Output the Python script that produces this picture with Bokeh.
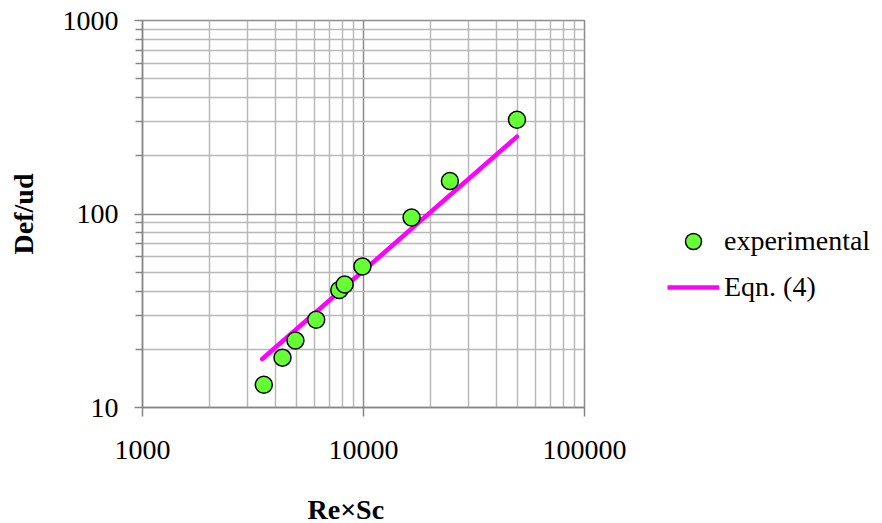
from bokeh.plotting import figure
from bokeh.models import Range1d, FixedTicker, Legend, LegendItem, Label
from bokeh.layouts import row, column
from bokeh.embed import file_html
from bokeh.resources import INLINE

# ---- data ----
re_sc = [3540, 4300, 4920, 6110, 7770, 8220, 9890, 16500, 24600, 49500]
def_ud = [13.1, 18.1, 22.2, 28.4, 40.5, 43.2, 53.6, 95.9, 148, 307]

eqn_x = [3480, 49500]
eqn_y = [17.8, 251]

x_major = [1000, 10000, 100000]
x_minor = [2000, 3000, 4000, 5000, 6000, 7000, 8000, 9000,
           20000, 30000, 40000, 50000, 60000, 70000, 80000, 90000]
y_major = [10, 100, 1000]
y_minor = [20, 30, 40, 50, 60, 70, 80, 90,
           200, 300, 400, 500, 600, 700, 800, 900]
x_labels = ["1000", "10000", "100000"]
y_labels = ["10", "100", "1000"]
x_title = "Re×Sc"
y_title = "Def/ud"
series_names = ["experimental", "Eqn. (4)"]

FONT = "Liberation Serif"
AXIS_C = "#868686"
GRID_MAJ = "#8c8c8c"
GRID_MIN = "#b8b8b8"
PT_FILL = "#66ff33"
LINE_C = "#ff00ff"

# ---------------- main plot ----------------
p = figure(frame_width=442, frame_height=387, x_axis_type="log", y_axis_type="log",
           x_range=Range1d(1000, 100000), y_range=Range1d(10, 1000),
           output_backend="svg", toolbar_location=None,
           min_border_left=142, min_border_right=50,
           min_border_top=20, min_border_bottom=70)

p.background_fill_color = "white"
p.border_fill_color = "white"
p.outline_line_color = GRID_MAJ
p.outline_line_width = 1.5

xt = FixedTicker(ticks=x_major, minor_ticks=x_minor)
yt = FixedTicker(ticks=y_major, minor_ticks=y_minor)
p.xaxis.ticker = xt
p.yaxis.ticker = yt
p.xgrid.ticker = xt
p.ygrid.ticker = yt

p.xaxis.major_label_overrides = {v: s for v, s in zip(x_major, x_labels)}
p.yaxis.major_label_overrides = {v: s for v, s in zip(y_major, y_labels)}

for g in (p.xgrid, p.ygrid):
    g.grid_line_color = GRID_MAJ
    g.grid_line_width = 1.5
    g.minor_grid_line_color = GRID_MIN
    g.minor_grid_line_width = 1.5

for ax in (p.xaxis, p.yaxis):
    ax.axis_line_color = AXIS_C
    ax.axis_line_width = 1.5
    ax.major_tick_line_color = AXIS_C
    ax.major_tick_line_width = 1.5
    ax.minor_tick_line_color = AXIS_C
    ax.minor_tick_line_width = 1.5
    ax.major_tick_in = 0
    ax.minor_tick_in = 0
    ax.major_label_text_font = FONT
    ax.major_label_text_font_size = "28px"
    ax.major_label_text_color = "black"
    ax.axis_label_text_font = FONT
    ax.axis_label_text_font_size = "28px"
    ax.axis_label_text_font_style = "bold"
    ax.axis_label_text_color = "black"

p.xaxis.major_tick_out = 9
p.xaxis.minor_tick_out = 0
p.xaxis.major_label_standoff = 24

p.yaxis.major_tick_out = 8
p.yaxis.minor_tick_out = 7
p.yaxis.major_label_standoff = 16
p.yaxis.axis_label = y_title
p.yaxis.axis_label_standoff = 21

line_r = p.line(eqn_x, eqn_y, line_color=LINE_C, line_width=4.5, line_cap="round")
pts_r = p.scatter(re_sc, def_ud, size=17, fill_color=PT_FILL,
                  line_color="black", line_width=1.5)

# ---------------- x-axis title strip ----------------
r = figure(frame_width=442, frame_height=46, x_range=Range1d(0, 442), y_range=Range1d(0, 46),
           output_backend="svg", toolbar_location=None,
           x_axis_location=None, y_axis_location=None,
           min_border_left=142, min_border_right=50, min_border_top=0, min_border_bottom=0)
r.grid.visible = False
r.outline_line_color = None
r.background_fill_color = "white"
r.border_fill_color = "white"
r.add_layout(Label(x=165, y=30, text=x_title, text_font=FONT, text_font_size="28px",
                   text_font_style="bold", text_color="black",
                   text_align="left", text_baseline="top"))

# ---------------- legend panel ----------------
q = figure(frame_width=248, frame_height=387, x_range=Range1d(0, 1), y_range=Range1d(0, 1),
           output_backend="svg", toolbar_location=None,
           x_axis_location=None, y_axis_location=None,
           min_border_left=0, min_border_right=0, min_border_top=20, min_border_bottom=116)
q.grid.visible = False
q.outline_line_color = None
q.background_fill_color = "white"
q.border_fill_color = "white"
# same data, out of this panel's view: only their legend glyphs show
lg_line = q.line(eqn_x, eqn_y, line_color=LINE_C, line_width=4.5)
lg_pts = q.scatter(re_sc, def_ud, size=17, fill_color=PT_FILL, line_color="black", line_width=1.5)

legend = Legend(items=[LegendItem(label=series_names[0], renderers=[lg_pts]),
                       LegendItem(label=series_names[1], renderers=[lg_line])],
                location=(33, 100))
legend.border_line_color = None
legend.background_fill_alpha = 0
legend.padding = 0
legend.margin = 0
legend.spacing = 6
legend.glyph_width = 52
legend.glyph_height = 40
legend.label_height = 40
legend.label_standoff = 5
legend.label_text_font = FONT
legend.label_text_font_size = "28px"
legend.label_text_color = "black"
q.add_layout(legend, "center")

layout = row(column(p, r, spacing=0), q, spacing=0)
open("out.html", "w").write(file_html(layout, INLINE))
